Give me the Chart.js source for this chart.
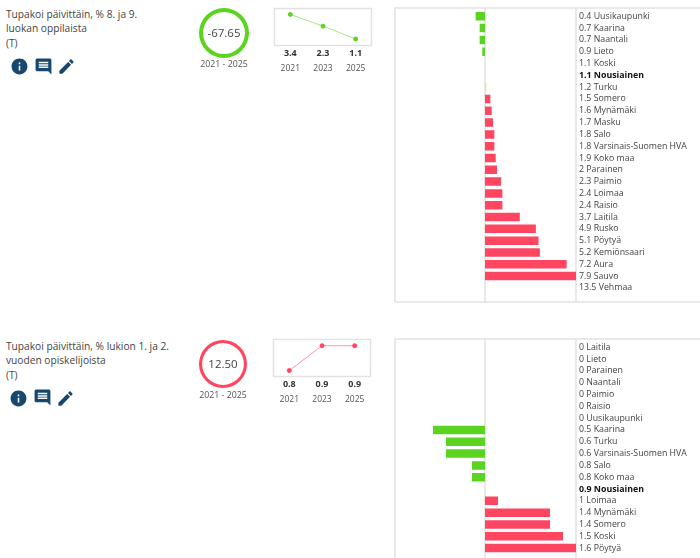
<!DOCTYPE html>
<html>
<head>
<meta charset="utf-8">
<script src="https://cdn.jsdelivr.net/npm/chart.js@4"></script>
<style>
  html, body { margin: 0; padding: 0; background: #fff; }
  body { width: 700px; height: 558px; position: relative; overflow: hidden; font-family: "Open Sans", sans-serif; color: #444; }
  .abs { position: absolute; }
  canvas { position: absolute; }
  .title { left: 6px; width: 175px; font-size: 10.2px; line-height: 14.4px; }
  .center { text-align: center; width: 60px; font-size: 11.5px; line-height: 16px; }
  .period { text-align: center; width: 70px; font-size: 8.8px; line-height: 12px; color: #555; }
  svg { position: absolute; width: 19px; height: 19px; fill: #17466e; }
</style>
</head>
<body>

<div class="abs title" style="top:7px">Tupakoi päivittäin, % 8. ja 9.<br>luokan oppilaista<br>(T)</div>
<svg style="left:10px;top:57px" viewBox="0 0 24 24"><path d="M12 2C6.48 2 2 6.48 2 12s4.48 10 10 10 10-4.48 10-10S17.52 2 12 2zm1 15h-2v-6h2v6zm0-8h-2V7h2v2z"/></svg>
<svg style="left:33.500px;top:57px" viewBox="0 0 24 24"><path d="M21.99 4c0-1.100-.89-2-1.990-2H4c-1.100 0-2 .9-2 2v12c0 1.100.9 2 2 2h14l4 4-.01-18zM18 14H6v-2h12v2zm0-3H6V9h12v2zm0-3H6V6h12v2z"/></svg>
<svg style="left:57px;top:57px" viewBox="0 0 24 24"><path d="M3 17.250V21h3.750L17.810 9.940l-3.750-3.750L3 17.250zM20.710 7.040c.39-.39.39-1.020 0-1.410l-2.340-2.340c-.39-.39-1.020-.39-1.410 0l-1.830 1.830 3.750 3.750 1.830-1.830z"/></svg>
<canvas id="gauge1" width="60" height="60" style="left:194px;top:3px"></canvas>
<div class="abs center" style="left:194px;top:25px">-67.65</div>
<div class="abs period" style="left:189px;top:58px">2021 - 2025</div>
<canvas id="spark1" width="100" height="73" style="left:273px;top:4px"></canvas>
<canvas id="bars1" width="306" height="296" style="left:394px;top:7px"></canvas>

<div class="abs title" style="top:339px">Tupakoi päivittäin, % lukion 1. ja 2.<br>vuoden opiskelijoista<br>(T)</div>
<svg style="left:9px;top:389px" viewBox="0 0 24 24"><path d="M12 2C6.48 2 2 6.48 2 12s4.48 10 10 10 10-4.48 10-10S17.52 2 12 2zm1 15h-2v-6h2v6zm0-8h-2V7h2v2z"/></svg>
<svg style="left:32.500px;top:388px" viewBox="0 0 24 24"><path d="M21.99 4c0-1.100-.89-2-1.990-2H4c-1.100 0-2 .9-2 2v12c0 1.100.9 2 2 2h14l4 4-.01-18zM18 14H6v-2h12v2zm0-3H6V9h12v2zm0-3H6V6h12v2z"/></svg>
<svg style="left:56px;top:389px" viewBox="0 0 24 24"><path d="M3 17.250V21h3.750L17.810 9.940l-3.750-3.750L3 17.250zM20.710 7.040c.39-.39.39-1.020 0-1.410l-2.340-2.340c-.39-.39-1.020-.39-1.410 0l-1.830 1.830 3.750 3.750 1.830-1.830z"/></svg>
<canvas id="gauge2" width="60" height="60" style="left:193px;top:334px"></canvas>
<div class="abs center" style="left:193px;top:356px">12.50</div>
<div class="abs period" style="left:188px;top:389px">2021 - 2025</div>
<canvas id="spark2" width="100" height="73" style="left:272px;top:335px"></canvas>
<canvas id="bars2" width="306" height="220" style="left:394px;top:338px"></canvas>

<script>
const GREEN = '#5ad321';
const RED = '#ff4560';
const YELLOW = '#ffe05a';
const FRAME = '#e2e2e2';
const FONT = '"Open Sans", sans-serif';

const sparkYears = ['2021', '2023', '2025'];
const spark1Values = [3.4, 2.3, 1.1];
const spark2Values = [0.8, 0.9, 0.9];

const bars1Names = ['Uusikaupunki', 'Kaarina', 'Naantali', 'Lieto', 'Koski', 'Nousiainen', 'Turku', 'Somero', 'Mynämäki', 'Masku', 'Salo', 'Varsinais-Suomen HVA', 'Koko maa', 'Parainen', 'Paimio', 'Loimaa', 'Raisio', 'Laitila', 'Rusko', 'Pöytyä', 'Kemiönsaari', 'Aura', 'Sauvo', 'Vehmaa'];
const bars1Values = [0.4, 0.7, 0.7, 0.9, 1.1, 1.1, 1.2, 1.5, 1.6, 1.7, 1.8, 1.8, 1.9, 2, 2.3, 2.4, 2.4, 3.7, 4.9, 5.1, 5.2, 7.2, 7.9, 13.5];
const bars1Base = 1.1;
const bars1Max = 7.9;

const bars2Names = ['Laitila', 'Lieto', 'Parainen', 'Naantali', 'Paimio', 'Raisio', 'Uusikaupunki', 'Kaarina', 'Turku', 'Varsinais-Suomen HVA', 'Salo', 'Koko maa', 'Nousiainen', 'Loimaa', 'Mynämäki', 'Somero', 'Koski', 'Pöytyä'];
const bars2Values = [0, 0, 0, 0, 0, 0, 0, 0.5, 0.6, 0.6, 0.8, 0.8, 0.9, 1, 1.4, 1.4, 1.5, 1.6];
const bars2Base = 0.9;
const bars2Max = 1.6;

// scales reserve room for half a label at each end, the layout here is fixed
function noScalePadding(s) {
  s.paddingLeft = s.paddingRight = s.paddingTop = s.paddingBottom = 0;
}

function drawGauge(id, color, cutout) {
  new Chart(document.getElementById(id), {
    type: 'doughnut',
    data: { datasets: [{ data: [1], backgroundColor: color, borderWidth: 0 }] },
    options: {
      responsive: false,
      animation: false,
      cutout: cutout,
      radius: cutout === '84%' ? 25 : 24,
      plugins: { legend: { display: false }, tooltip: { enabled: false } }
    }
  });
}

const areaFrame = {
  id: 'areaFrame',
  beforeDatasetsDraw(chart) {
    const { ctx, chartArea: a } = chart;
    ctx.save();
    ctx.strokeStyle = FRAME;
    ctx.lineWidth = 1.5;
    ctx.strokeRect(a.left + 0.5, a.top + 0.5, a.width - 1, a.height - 1);
    ctx.restore();
  }
};

function drawSpark(id, values, color, lineColor, yMin, yMax) {
  new Chart(document.getElementById(id), {
    type: 'line',
    data: {
      labels: sparkYears,
      datasets: [{
        data: values,
        borderColor: lineColor,
        borderWidth: 1,
        pointBackgroundColor: color,
        pointBorderColor: color,
        pointRadius: 2,
        tension: 0
      }]
    },
    options: {
      responsive: false,
      animation: false,
      layout: { autoPadding: false, padding: { left: 1, right: 1, top: 4 } },
      scales: {
        x: {
          weight: 1,
          offset: true,
          afterFit: noScalePadding,
          grid: { display: false, drawTicks: false },
          border: { display: false },
          ticks: { maxRotation: 0, padding: 2, font: { family: FONT, size: 9, weight: 'bold' }, color: '#333', callback: (v, i) => values[i] }
        },
        years: {
          type: 'category',
          position: 'bottom',
          weight: 2,
          offset: true,
          labels: sparkYears,
          afterFit: noScalePadding,
          grid: { display: false, drawTicks: false },
          border: { display: false },
          ticks: { maxRotation: 0, padding: 3, font: { family: FONT, size: 8.5 }, color: '#555' }
        },
        y: { display: false, min: yMin, max: yMax }
      },
      plugins: { legend: { display: false }, tooltip: { enabled: false } }
    },
    plugins: [areaFrame]
  });
}

// frame runs past the plot on the right, zero and max lines run full height
const barFrame = {
  id: 'barFrame',
  beforeDatasetsDraw(chart) {
    const { ctx, width, height, scales: { x } } = chart;
    const base = chart.data.datasets[0].base;
    ctx.save();
    ctx.strokeStyle = FRAME;
    ctx.lineWidth = 1.5;
    ctx.beginPath();
    ctx.moveTo(width, 1);
    ctx.lineTo(1, 1);
    ctx.lineTo(1, chart.options.frameBottom ? height - 1 : height);
    if (chart.options.frameBottom) ctx.lineTo(width, height - 1);
    for (const v of [base, x.max]) {
      ctx.moveTo(x.getPixelForValue(v), 1);
      ctx.lineTo(x.getPixelForValue(v), height);
    }
    ctx.stroke();
    ctx.restore();
  }
};

function drawBars(id, names, values, base, max, pad, frameBottom) {
  const own = names.indexOf('Nousiainen');
  new Chart(document.getElementById(id), {
    type: 'bar',
    data: {
      labels: names.map((n, i) => values[i] + ' ' + n),
      datasets: [{
        base: base,
        // zero means no data, values past the axis are left out too
        data: values.map(v => (v > 0 && v <= max ? v : null)),
        backgroundColor: c => {
          const v = values[c.dataIndex];
          if (Math.abs(v - base) / base < 0.1 && v !== base) return YELLOW;
          return v < base ? GREEN : RED;
        },
        categoryPercentage: 1,
        barPercentage: 0.72
      }]
    },
    options: {
      indexAxis: 'y',
      responsive: false,
      animation: false,
      frameBottom: frameBottom,
      layout: { autoPadding: false, padding: pad },
      scales: {
        x: { display: false, min: base - (max - base), max: max, grid: { display: false } },
        y: {
          position: 'right',
          grid: { display: false, drawTicks: false },
          border: { display: false },
          afterFit: s => { noScalePadding(s); s.width = 124; },
          ticks: {
            autoSkip: false,
            crossAlign: 'near',
            padding: 3,
            color: c => (c.index === own ? '#111' : '#444'),
            font: c => ({ family: FONT, size: 8.8, weight: c.index === own ? 'bold' : 'normal' })
          }
        }
      },
      plugins: { legend: { display: false }, tooltip: { enabled: false } }
    },
    plugins: [barFrame]
  });
}

drawGauge('gauge1', GREEN, '84%');
drawSpark('spark1', spark1Values, GREEN, 'rgba(90,211,33,0.55)', 0.44, 4);
drawBars('bars1', bars1Names, bars1Values, bars1Base, bars1Max, { top: 3.4, bottom: 9.2 }, true);

drawGauge('gauge2', RED, '87%');
drawSpark('spark2', spark2Values, RED, 'rgba(255,69,96,0.55)', 0.774, 0.927);
drawBars('bars2', bars2Names, bars2Values, bars2Base, bars2Max, { top: 3.4, bottom: 4 }, false);
</script>
</body>
</html>
